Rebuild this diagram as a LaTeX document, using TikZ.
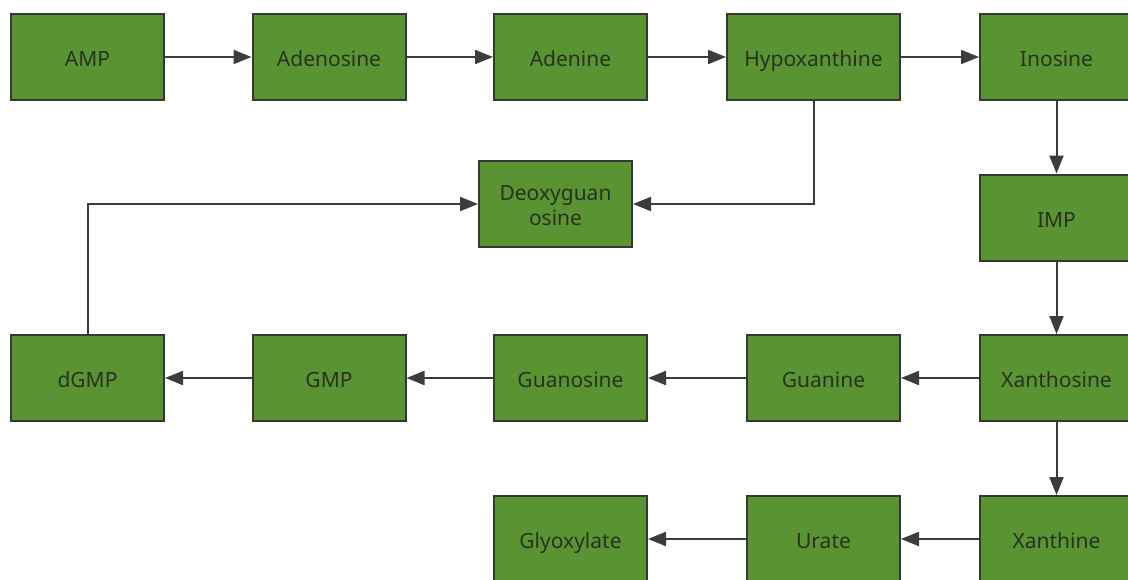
\documentclass[tikz,border=0pt]{standalone}
\usepackage{fontspec}
\setmainfont{Noto Sans}
\usetikzlibrary{arrows.meta}
\definecolor{boxgreen}{RGB}{90,148,50}
\definecolor{boxline}{RGB}{52,58,48}
\definecolor{boxtext}{RGB}{40,50,32}
\definecolor{arrowgray}{RGB}{60,60,60}
\tikzset{
  met/.style={draw=boxline, line width=2pt, fill=boxgreen, text=boxtext,
    minimum width=153pt, minimum height=86pt, inner sep=0pt, align=center,
    text height=22pt, text depth=3pt,
    font=\fontsize{21}{25}\selectfont},
  flow/.style={draw=arrowgray, line width=2pt, -{Triangle[length=18pt,width=14pt]}}
}
\begin{document}
\begin{tikzpicture}[x=1pt,y=-1pt]
\useasboundingbox (0,0) rectangle (1128,579);
\clip (0,0) rectangle (1128,579);
\node[met] (amp) at (87.5,57) {AMP};
\node[met] (adenosine) at (329,57) {Adenosine};
\node[met] (adenine) at (570.5,57) {Adenine};
\node[met, minimum width=173pt] (hypo) at (813.5,57) {Hypoxanthine};
\node[met] (inosine) at (1056.5,57) {Inosine};
\node[met, text height=46pt, text depth=3pt] (deoxy) at (555.5,204) {Deoxyguan\\osine};
\node[met] (imp) at (1056.5,217.5) {IMP};
\node[met] (dgmp) at (87.5,378) {dGMP};
\node[met] (gmp) at (329,378) {GMP};
\node[met] (guanosine) at (570.5,378) {Guanosine};
\node[met] (guanine) at (823.5,378) {Guanine};
\node[met] (xanthosine) at (1056.5,378) {Xanthosine};
\node[met] (glyox) at (570.5,539) {Glyoxylate};
\node[met] (urate) at (823.5,539) {Urate};
\node[met] (xanthine) at (1056.5,539) {Xanthine};
\draw[flow] (amp) -- (adenosine);
\draw[flow] (adenosine) -- (adenine);
\draw[flow] (adenine) -- (hypo);
\draw[flow] (hypo) -- (inosine);
\draw[flow] (inosine) -- (imp);
\draw[flow] (imp) -- (xanthosine);
\draw[flow] (xanthosine) -- (guanine);
\draw[flow] (guanine) -- (guanosine);
\draw[flow] (guanosine) -- (gmp);
\draw[flow] (gmp) -- (dgmp);
\draw[flow] (dgmp.north) |- (deoxy.west);
\draw[flow] (hypo.south) |- (deoxy.east);
\draw[flow] (xanthosine) -- (xanthine);
\draw[flow] (xanthine) -- (urate);
\draw[flow] (urate) -- (glyox);
\end{tikzpicture}
\end{document}
